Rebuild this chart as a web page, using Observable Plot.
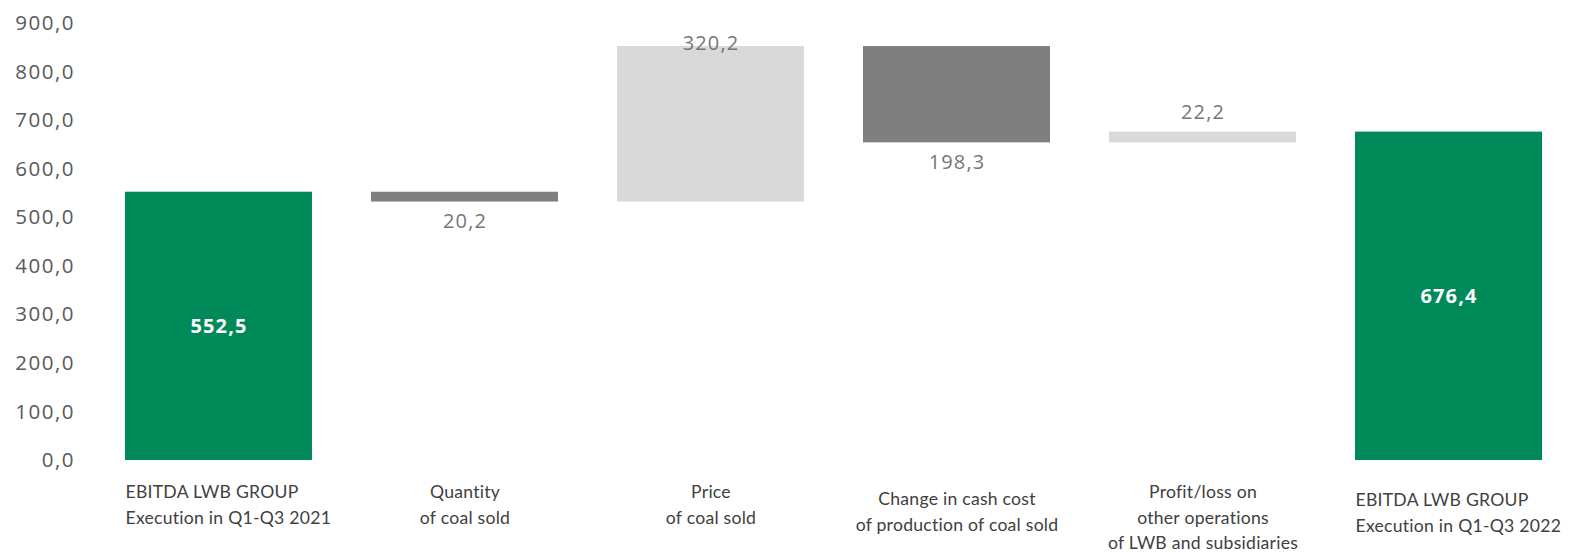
<!DOCTYPE html>
<html>
<head>
<meta charset="utf-8">
<script src="https://cdn.jsdelivr.net/npm/d3@7"></script>
<script src="https://cdn.jsdelivr.net/npm/@observablehq/plot@0.6"></script>
<style>
  html, body { margin: 0; padding: 0; background: #fff; }
  #chart { width: 1575px; height: 553px; }
</style>
</head>
<body>
<div id="chart"></div>
<script>
const categories = [
  "EBITDA LWB GROUP\nExecution in Q1-Q3 2021",
  "Quantity\nof coal sold",
  "Price\nof coal sold",
  "Change in cash cost\nof production of coal sold",
  "Profit/loss on\nother operations\nof LWB and subsidiaries",
  "EBITDA LWB GROUP\nExecution in Q1-Q3 2022"
];
const values = [552.5, -20.2, 320.2, -198.3, 22.2, 676.4];
const kinds = ["total", "delta", "delta", "delta", "delta", "total"];
const yTicks = [0, 100, 200, 300, 400, 500, 600, 700, 800, 900];

const fmt = v => d3.format(".1f")(Math.abs(v)).replace(".", ",");
const yMax = 900;

let running = 0;
const rows = categories.map((cat, i) => {
  const v = values[i];
  let y1, y2;
  if (kinds[i] === "total") { y1 = 0; y2 = v; running = v; }
  else { y1 = running; y2 = running + v; running += v; }
  return {
    cat, v, kind: kinds[i], y1, y2,
    lo: Math.min(y1, y2), hi: Math.max(y1, y2),
    mid: (y1 + y2) / 2,
    color: kinds[i] === "total" ? "#008A5A" : (v < 0 ? "#7F7F7F" : "#D9D9D9"),
    label: fmt(v),
    idx: i
  };
});

const totals = rows.filter(d => d.kind === "total");
const negs = rows.filter(d => d.kind === "delta" && d.v < 0);
const poss = rows.filter(d => d.kind === "delta" && d.v > 0);
const last = rows.length - 1;

const catText = { x: "cat", y: () => 0, text: "cat", lineAnchor: "top", fontSize: 17.6, lineHeight: 1.43, fill: "#404040", fontFamily: "Lato, sans-serif" };

const chart = Plot.plot({
  width: 1575,
  height: 553,
  marginLeft: 94.5,
  marginRight: 3.5,
  marginTop: 23,
  marginBottom: 93,
  style: { fontFamily: "'Open Sans', sans-serif", fontSize: "20px", color: "#595959", background: "#fff" },
  x: { domain: categories, paddingInner: 0.24, paddingOuter: 0.12, axis: null },
  y: { domain: [0, yMax], axis: null },
  marks: [
    Plot.axisY({ ticks: yTicks, tickSize: 0, tickPadding: 20, tickFormat: d => d3.format(".1f")(d).replace(".", ","), fontSize: 20.5, fill: "#595959" }),
    Plot.barY(rows, { x: "cat", y1: "y1", y2: "y2", fill: "color" }),
    Plot.text(totals, { x: "cat", y: "mid", text: "label", fill: "#fff", fontWeight: "bold", fontSize: 20 }),
    Plot.text(negs, { x: "cat", y: "lo", text: "label", fill: "#767676", fontSize: 20, dy: 20 }),
    Plot.text(poss, { x: "cat", y: d => Math.min(d.hi, yMax - 81), text: "label", fill: "#767676", fontSize: 20, dy: -19 }),
    Plot.text(rows.filter(d => d.idx === 0), { ...catText, textAnchor: "start", dx: -93.5, dy: 20 }),
    Plot.text(rows.filter(d => d.idx === last), { ...catText, textAnchor: "start", dx: -93.5, dy: 28 }),
    Plot.text(rows.filter(d => d.kind === "delta" && d.idx !== 3), { ...catText, dy: 20 }),
    Plot.text(rows.filter(d => d.idx === 3), { ...catText, dy: 27 })
  ]
});
document.getElementById("chart").appendChild(chart);
d3.select(chart).selectAll("g[aria-label='y-axis tick label'] text").style("letter-spacing", "1.5px");
d3.select(chart).selectAll("g[aria-label='text']").each(function (_, i) {
  d3.select(this).style("letter-spacing", i < 3 ? "1.1px" : "0.25px");
});
</script>
</body>
</html>
